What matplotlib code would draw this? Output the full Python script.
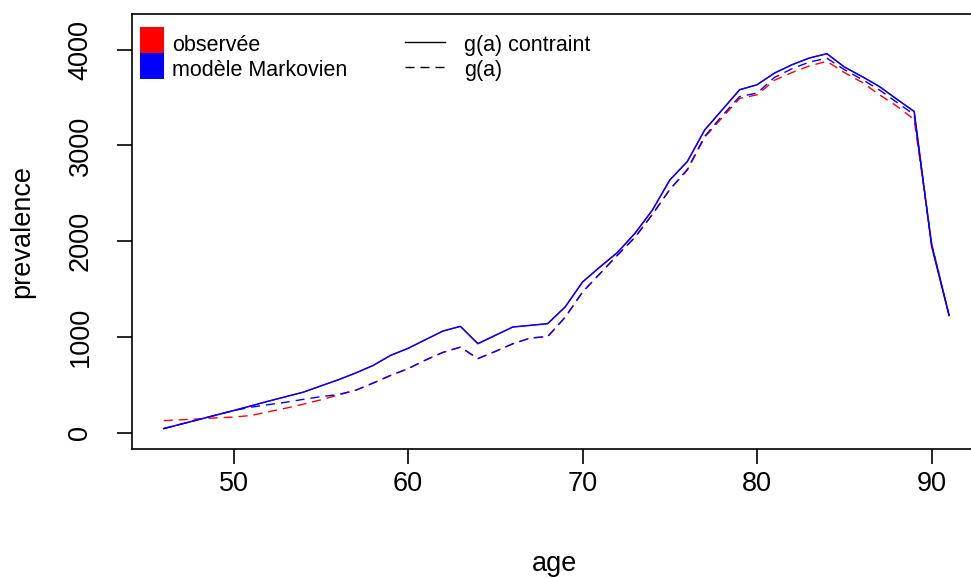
import numpy as np
import matplotlib
matplotlib.use('Agg')
import matplotlib.pyplot as plt
from matplotlib.patches import Rectangle
from matplotlib.lines import Line2D

plt.rcParams['font.family'] = ['Liberation Sans', 'DejaVu Sans']

# age range
ages = np.arange(46, 92)

# observed prevalence, g(a) contraint (sits under the blue solid line)
obs_contraint = [45, 92, 139, 186, 233, 282, 331, 378, 425, 490,
                 554, 625, 704, 809, 882, 973, 1063, 1112, 931, 1018,
                 1105, 1122, 1140, 1314, 1575, 1732, 1883, 2082, 2325, 2639,
                 2831, 3162, 3371, 3581, 3633, 3755, 3842, 3912, 3957, 3818,
                 3720, 3615, 3483, 3354, 1950, 1225]

# observed prevalence, g(a)
obs_ga = [128, 137, 146, 157, 165, 182, 220, 258, 300, 345,
          395, 445, 520, 600, 670, 760, 840, 895, 775, 850,
          930, 990, 1005, 1206, 1470, 1663, 1855, 2040, 2280, 2540,
          2740, 3085, 3290, 3490, 3528, 3680, 3760, 3830, 3877, 3760,
          3660, 3530, 3410, 3270, 1980, 1230]

# markov model, g(a) contraint
mod_contraint = [45, 92, 139, 186, 233, 282, 331, 378, 425, 490,
                 554, 625, 704, 809, 882, 973, 1063, 1112, 931, 1018,
                 1105, 1122, 1140, 1314, 1575, 1732, 1883, 2082, 2325, 2639,
                 2831, 3162, 3371, 3581, 3633, 3755, 3842, 3912, 3957, 3818,
                 3720, 3615, 3483, 3354, 1950, 1225]

# markov model, g(a)
mod_ga = [45, 92, 139, 186, 233, 268, 295, 320, 350, 378,
          400, 445, 520, 600, 670, 760, 840, 895, 775, 850,
          930, 990, 1005, 1206, 1470, 1663, 1855, 2040, 2280, 2540,
          2750, 3095, 3310, 3510, 3546, 3710, 3800, 3870, 3910, 3790,
          3690, 3580, 3450, 3320, 1970, 1228]

W, H = 971, 578
fig = plt.figure(figsize=(W / 100, H / 100), dpi=100)

# R style plot region, right edge runs past the image
ax_left, ax_right, ax_top, ax_bot = 132.3, 980.5, 14.3, 449
ax = fig.add_axes([ax_left / W, 1 - ax_bot / H,
                   (ax_right - ax_left) / W, (ax_bot - ax_top) / H])

lw = 1.0
dash = (6.5, 4.3)
ax.plot(ages, obs_contraint, color='#FF0000', lw=0.8)
ax.plot(ages, obs_ga, color='#FF0000', lw=lw, dashes=dash)
ax.plot(ages, mod_contraint, color='#0000FF', lw=1.1)
ax.plot(ages, mod_ga, color='#0000FF', lw=lw, dashes=dash)

ax.set_xlim(44.2, 92.8)
ax.set_ylim(-168, 4368)
ax.set_xticks([50, 60, 70, 80, 90])
ax.set_yticks([0, 1000, 2000, 3000, 4000])

for s in ax.spines.values():
    s.set_linewidth(1.2)
ax.tick_params(axis='both', direction='out', length=11, width=1.2,
               labelsize=19.5, colors='black')
ax.tick_params(axis='x', pad=5)
ax.tick_params(axis='y', pad=17)
for lab in ax.get_yticklabels():
    lab.set_rotation(90)
    lab.set_va('center')

# axis titles
fig.text(555 / W, 1 - 571 / H, 'age', fontsize=19.5, ha='center', va='baseline')
fig.text(22 / W, 1 - 232 / H, 'prevalence', fontsize=19.5, rotation=90,
         ha='center', va='center')

# legend (left): filled boxes
leg_fs = 15.5
fig.patches.append(Rectangle((140 / W, 1 - 53.3 / H), 24 / W, 26 / H,
                             facecolor='#FF0000', edgecolor='none',
                             transform=fig.transFigure))
fig.patches.append(Rectangle((140 / W, 1 - 79.3 / H), 24 / W, 26 / H,
                             facecolor='#0000FF', edgecolor='none',
                             transform=fig.transFigure))
fig.text(171.7 / W, 1 - 51 / H, 'observée', fontsize=leg_fs, va='baseline')
fig.text(171.7 / W, 1 - 75.5 / H, 'modèle Markovien', fontsize=leg_fs, va='baseline')

# legend (right): line types
fig.lines.append(Line2D([405 / W, 445 / W], [1 - 41.7 / H, 1 - 41.7 / H],
                        color='black', lw=lw, transform=fig.transFigure))
fig.lines.append(Line2D([405 / W, 445 / W], [1 - 66.7 / H, 1 - 66.7 / H],
                        color='black', lw=lw, dashes=dash, transform=fig.transFigure))
fig.text(464.3 / W, 1 - 51 / H, 'g(a) contraint', fontsize=leg_fs, va='baseline')
fig.text(464.3 / W, 1 - 75.5 / H, 'g(a)', fontsize=leg_fs, va='baseline')

fig.savefig('out.png', dpi=100)
